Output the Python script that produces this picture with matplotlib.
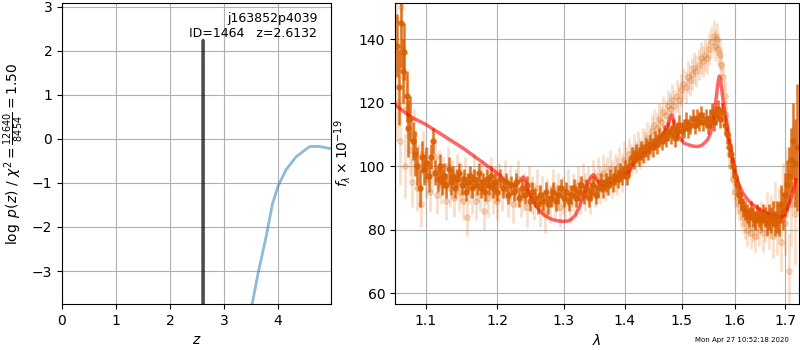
import numpy as np
import matplotlib
matplotlib.use('Agg')
import matplotlib.pyplot as plt
from matplotlib.ticker import FixedLocator, FixedFormatter, NullLocator

# redshift grid and log p(z)
pz_z = [2.600, 2.6132, 2.626]
pz_logp = [-20.0, 2.25, -20.0]
chi_z = [3.52, 3.63, 3.78, 3.90, 4.00, 4.15, 4.34, 4.59, 4.77, 4.98]
chi_logp = [-3.77, -3.07, -2.23, -1.47, -1.08, -0.70, -0.40, -0.17, -0.17, -0.22]

# best-fit model
model_wave = [1.060, 1.062, 1.080, 1.100, 1.151, 1.200, 1.212, 1.220, 1.226, 1.231, 1.235,
              1.238, 1.241, 1.245, 1.250, 1.255, 1.262, 1.270, 1.278, 1.286, 1.294, 1.300,
              1.306, 1.312, 1.318, 1.324, 1.330, 1.336, 1.341, 1.345, 1.348, 1.351, 1.355,
              1.360, 1.366, 1.372, 1.380, 1.390, 1.400, 1.406, 1.410, 1.414, 1.418, 1.425,
              1.434, 1.444, 1.454, 1.463, 1.470, 1.475, 1.479, 1.482, 1.485, 1.489, 1.493,
              1.498, 1.505, 1.513, 1.522, 1.530, 1.537, 1.543, 1.548, 1.553, 1.558, 1.562,
              1.565, 1.568, 1.570, 1.572, 1.575, 1.578, 1.582, 1.587, 1.593, 1.600, 1.607,
              1.615, 1.625, 1.635, 1.645, 1.655, 1.665, 1.675, 1.685, 1.693, 1.700, 1.706,
              1.712, 1.717, 1.722]
model_flux = [119.5, 119.0, 115.6, 113.2, 105.7, 97.8, 95.3, 94.2, 94.0, 94.8, 96.0,
              96.6, 95.6, 92.8, 90.0, 88.3, 86.2, 84.6, 83.6, 83.0, 82.7, 82.6,
              82.7, 83.2, 84.4, 86.6, 89.6, 93.0, 95.6, 96.9, 97.3, 96.5, 95.2,
              94.3, 94.1, 94.4, 95.3, 96.6, 97.6, 97.9, 99.0, 100.8, 101.8, 102.8,
              104.1, 105.6, 107.2, 109.2, 111.0, 113.0, 115.2, 116.2, 114.6, 112.0, 110.0,
              108.4, 107.2, 106.7, 106.3, 106.2, 106.6, 107.5, 108.4, 110.2, 113.8, 118.8,
              123.0, 127.0, 128.4, 127.5, 123.6, 119.5, 115.8, 110.5, 104.8, 98.2, 94.6,
              91.6, 89.4, 87.9, 86.8, 85.8, 85.0, 84.3, 83.9, 84.0, 85.0, 87.0,
              89.6, 92.4, 95.7]

# first spectrum (faint points)
wave_b = [1.061, 1.063, 1.066, 1.068, 1.071, 1.073, 1.076, 1.079, 1.082, 1.085, 1.088, 1.091,
          1.094, 1.097, 1.100, 1.103, 1.106, 1.109, 1.112, 1.115, 1.118, 1.121, 1.124, 1.127,
          1.130, 1.133, 1.136, 1.139, 1.142, 1.145, 1.148, 1.151, 1.154, 1.157, 1.160, 1.163,
          1.166, 1.169, 1.172, 1.175, 1.178, 1.181, 1.184, 1.187, 1.190, 1.193, 1.196, 1.199,
          1.203, 1.207, 1.211, 1.215, 1.219, 1.223, 1.227, 1.231, 1.235, 1.239, 1.243, 1.247,
          1.251, 1.255, 1.259, 1.263, 1.267, 1.271, 1.275, 1.279, 1.283, 1.287, 1.291, 1.295,
          1.299, 1.303, 1.307, 1.311, 1.315, 1.319, 1.323, 1.327, 1.331, 1.335, 1.339, 1.343,
          1.347, 1.351, 1.355, 1.359, 1.363, 1.367, 1.371, 1.375, 1.379, 1.383, 1.387, 1.391,
          1.395, 1.399, 1.403, 1.407, 1.411, 1.415, 1.419, 1.423, 1.427, 1.431, 1.435, 1.439,
          1.443, 1.447, 1.451, 1.455, 1.459, 1.463, 1.467, 1.471, 1.475, 1.479, 1.483, 1.487,
          1.491, 1.495, 1.499, 1.503, 1.507, 1.511, 1.515, 1.519, 1.523, 1.527, 1.531, 1.535,
          1.539, 1.543, 1.547, 1.551, 1.555, 1.559, 1.562, 1.565, 1.568, 1.571, 1.574, 1.577,
          1.580, 1.583, 1.586, 1.589, 1.592, 1.596, 1.600, 1.604, 1.608, 1.612, 1.616, 1.620,
          1.624, 1.628, 1.632, 1.636, 1.640, 1.644, 1.648, 1.652, 1.656, 1.660, 1.664, 1.668,
          1.672, 1.676, 1.680, 1.684, 1.688, 1.692, 1.696, 1.700, 1.704, 1.708, 1.712, 1.716,
          1.720]
flux_b = [146, 120, 108, 150, 128, 100, 118, 105, 95, 110, 93, 100,
          88, 104, 96, 100, 92, 98, 103, 91, 99, 94, 97, 89,
          100, 93, 96, 90, 98, 92, 95, 89, 97, 84, 94, 91,
          98, 89, 95, 92, 96, 86, 94, 90, 97, 91, 94, 89,
          95, 92, 96, 90, 94, 88, 93, 96, 90, 92, 87, 94,
          91, 89, 93, 87, 91, 85, 90, 88, 93, 89, 92, 87,
          91, 89, 93, 88, 92, 90, 94, 91, 95, 92, 94, 91,
          96, 93, 97, 94, 98, 95, 97, 99, 96, 98, 97, 100,
          98, 102, 100, 104, 102, 105, 103, 106, 104, 107, 106, 109,
          108, 111, 113, 112, 115, 114, 117, 116, 119, 118, 121, 119,
          122, 121, 124, 126, 125, 128, 127, 129, 131, 130, 132, 134,
          133, 135, 134, 137, 139, 141, 138, 140, 137, 135, 132, 128,
          122, 116, 110, 104, 100, 96, 92, 90, 88, 86, 84, 82,
          80, 83, 79, 81, 78, 82, 80, 84, 79, 82, 86, 80,
          84, 78, 88, 80, 85, 76, 92, 82, 95, 67, 88, 100,
          85]
err_b = [15, 12, 14, 15, 10, 10, 9, 8, 8, 8, 7, 7,
         7, 7, 6, 6, 6, 6, 6, 6, 6, 6, 6, 6,
         6, 6, 6, 6, 6, 6, 6, 6, 6, 6, 6, 6,
         6, 6, 6, 6, 6, 6, 6, 6, 6, 6, 6, 6,
         6, 6, 6, 6, 6, 6, 6, 6, 6, 6, 6, 6,
         6, 6, 6, 6, 6, 6, 6, 6, 6, 6, 6, 6,
         6, 6, 6, 6, 6, 6, 6, 6, 6, 6, 6, 6,
         6, 6, 6, 6, 6, 6, 6, 6, 6, 6, 6, 6,
         6, 6, 6, 5, 5, 5, 5, 5, 5, 5, 5, 5,
         5, 5, 5, 5, 5, 5, 5, 5, 5, 5, 5, 5,
         5, 5, 5, 5, 5, 5, 5, 5, 5, 5, 5, 5,
         5, 5, 5, 5, 5, 5, 5, 5, 5, 5, 5, 5,
         5, 5, 5, 5, 5, 5, 5, 5, 5, 5, 5, 5,
         5, 5, 5, 5, 5, 5, 5, 5, 6, 6, 6, 6,
         7, 7, 7, 8, 8, 9, 9, 10, 11, 12, 13, 14,
         16]

# second spectrum (strong points)
wave_a = [1.062, 1.065, 1.068, 1.070, 1.072, 1.075, 1.077, 1.080, 1.083, 1.086, 1.089, 1.092,
          1.095, 1.098, 1.101, 1.104, 1.107, 1.110, 1.113, 1.116, 1.119, 1.122, 1.125, 1.128,
          1.131, 1.134, 1.137, 1.140, 1.143, 1.146, 1.149, 1.152, 1.155, 1.158, 1.161, 1.164,
          1.167, 1.170, 1.173, 1.176, 1.179, 1.182, 1.185, 1.188, 1.191, 1.194, 1.197, 1.200,
          1.204, 1.208, 1.212, 1.216, 1.220, 1.224, 1.228, 1.232, 1.236, 1.240, 1.244, 1.248,
          1.252, 1.256, 1.260, 1.264, 1.268, 1.272, 1.276, 1.280, 1.284, 1.288, 1.292, 1.296,
          1.300, 1.304, 1.308, 1.312, 1.316, 1.320, 1.324, 1.328, 1.332, 1.336, 1.340, 1.344,
          1.348, 1.352, 1.356, 1.360, 1.364, 1.368, 1.372, 1.376, 1.380, 1.384, 1.388, 1.392,
          1.396, 1.400, 1.404, 1.408, 1.412, 1.416, 1.420, 1.424, 1.428, 1.432, 1.436, 1.440,
          1.444, 1.448, 1.452, 1.456, 1.460, 1.464, 1.468, 1.472, 1.476, 1.480, 1.484, 1.488,
          1.492, 1.496, 1.500, 1.504, 1.508, 1.512, 1.516, 1.520, 1.524, 1.528, 1.532, 1.536,
          1.540, 1.544, 1.548, 1.552, 1.556, 1.560, 1.564, 1.568, 1.572, 1.576, 1.580, 1.584,
          1.588, 1.592, 1.596, 1.600, 1.604, 1.608, 1.612, 1.616, 1.620, 1.624, 1.628, 1.632,
          1.636, 1.640, 1.644, 1.648, 1.652, 1.656, 1.660, 1.664, 1.668, 1.672, 1.676, 1.680,
          1.684, 1.688, 1.692, 1.696, 1.700, 1.704, 1.708, 1.712, 1.716, 1.720, 1.724]
flux_a = [138, 125, 145, 130, 136, 122, 112, 115, 108, 104, 100, 93,
          103, 99, 101, 97, 103, 108, 98, 96, 100, 95, 97, 94,
          99, 95, 97, 93, 96, 98, 94, 96, 92, 95, 97, 93,
          96, 94, 98, 93, 95, 92, 96, 94, 97, 93, 95, 92,
          96, 93, 95, 91, 94, 92, 95, 90, 93, 91, 94, 89,
          92, 90, 88, 91, 89, 92, 88, 90, 92, 89, 91, 93,
          90, 92, 89, 91, 93, 90, 92, 94, 91, 93, 90, 92,
          94, 91, 93, 95, 93, 95, 94, 96, 95, 97, 96, 98,
          97, 99, 97, 100, 103, 102, 104, 103, 105, 104, 106, 105,
          107, 106, 108, 107, 109, 108, 110, 109, 111, 110, 112, 109,
          111, 113, 111, 112, 114, 112, 113, 115, 113, 115, 114, 116,
          114, 115, 113, 115, 117, 114, 116, 118, 115, 117, 113, 110,
          106, 104, 100, 97, 94, 91, 89, 87, 86, 85, 84, 86,
          84, 83, 85, 84, 83, 85, 84, 82, 84, 83, 85, 82,
          84, 83, 88, 86, 91, 94, 97, 102, 108, 101, 106]
err_a = [10, 12, 14, 10, 9, 8, 9, 7, 6, 7, 6, 6,
         5, 5, 5, 5, 4, 4, 4, 4, 4, 4, 4, 4,
         4, 4, 3, 3, 3, 3, 3, 3, 3, 3, 3, 3,
         3, 3, 3, 3, 3, 3, 3, 3, 3, 3, 3, 3,
         3, 3, 3, 3, 3, 3, 3, 3, 3, 3, 3, 3,
         3, 3, 3, 3, 3, 3, 3, 3, 3, 3, 3, 3,
         3, 3, 3, 3, 3, 3, 3, 3, 3, 3, 3, 3,
         3, 3, 3, 3, 3, 3, 3, 3, 3, 3, 3, 3,
         3, 3, 3, 3, 3, 3, 3, 3, 3, 3, 3, 3,
         3, 3, 3, 3, 3, 3, 3, 3, 3, 3, 3, 3,
         3, 3, 3, 3, 3, 3, 3, 3, 3, 3, 3, 3,
         3, 3, 3, 3, 3, 3, 3, 3, 3, 3, 3, 3,
         3, 3, 3, 3, 3, 3, 3, 3, 3, 3, 3, 3,
         3, 3, 3, 3, 3, 3, 3, 4, 4, 4, 4, 4,
         5, 5, 6, 6, 7, 8, 9, 10, 12, 14, 20]

wave_ticks = [1.1, 1.2, 1.3, 1.4, 1.5, 1.6, 1.7]
orange = '#d95f02'

fig = plt.figure(figsize=(8, 3.5), dpi=100)

# p(z) panel
ax1 = fig.add_axes([0.0775, 0.1314, 0.336, 0.86])
ax1.plot(chi_z, chi_logp, color='#1f77b4', alpha=0.5, lw=2)
ax1.plot(pz_z, pz_logp, color='k', alpha=0.7, lw=2)
ax1.set_xlim(0, 4.98)
ax1.set_ylim(-3.75, 3.09)
ax1.set_xticks([0, 1, 2, 3, 4])
ax1.set_yticks([-3, -2, -1, 0, 1, 2, 3])
ax1.grid()
ax1.set_xlabel(r'$z$')
ax1.set_ylabel(r'$\log\ p(z)$ / $\chi^2=\frac{12640}{8454}=1.50$')
ax1.text(0.95, 0.97, 'j163852p4039\nID=1464   z=2.6132', transform=ax1.transAxes,
         ha='right', va='top', fontsize=9)

# spectrum panel
ax2 = fig.add_axes([0.49375, 0.1314, 0.505, 0.86])
ax2.errorbar(wave_b, flux_b, yerr=err_b, marker='o', ms=4, color=orange, alpha=0.2,
             linestyle='None', elinewidth=2)
ax2.errorbar(wave_a, flux_a, yerr=err_a, marker='o', ms=3.5, color=orange, alpha=0.85,
             linestyle='None', elinewidth=1.8)
ax2.plot(model_wave, model_flux, color='r', alpha=0.6, lw=2.5)
ax2.set_xscale('log')
ax2.set_xlim(1.06, 1.729)
ax2.set_ylim(56.6, 151.4)
ax2.xaxis.set_major_locator(FixedLocator(wave_ticks))
ax2.xaxis.set_major_formatter(FixedFormatter(['%.1f' % w for w in wave_ticks]))
ax2.xaxis.set_minor_locator(NullLocator())
ax2.set_yticks([60, 80, 100, 120, 140])
ax2.grid()
ax2.set_xlabel(r'$\lambda$')
ax2.set_ylabel(r'$f_\lambda \times 10^{-19}$')

fig.text(0.927, 0.028, 'Mon Apr 27 10:52:18 2020', ha='center', va='center', fontsize=5)

fig.savefig('out.png', dpi=100)
